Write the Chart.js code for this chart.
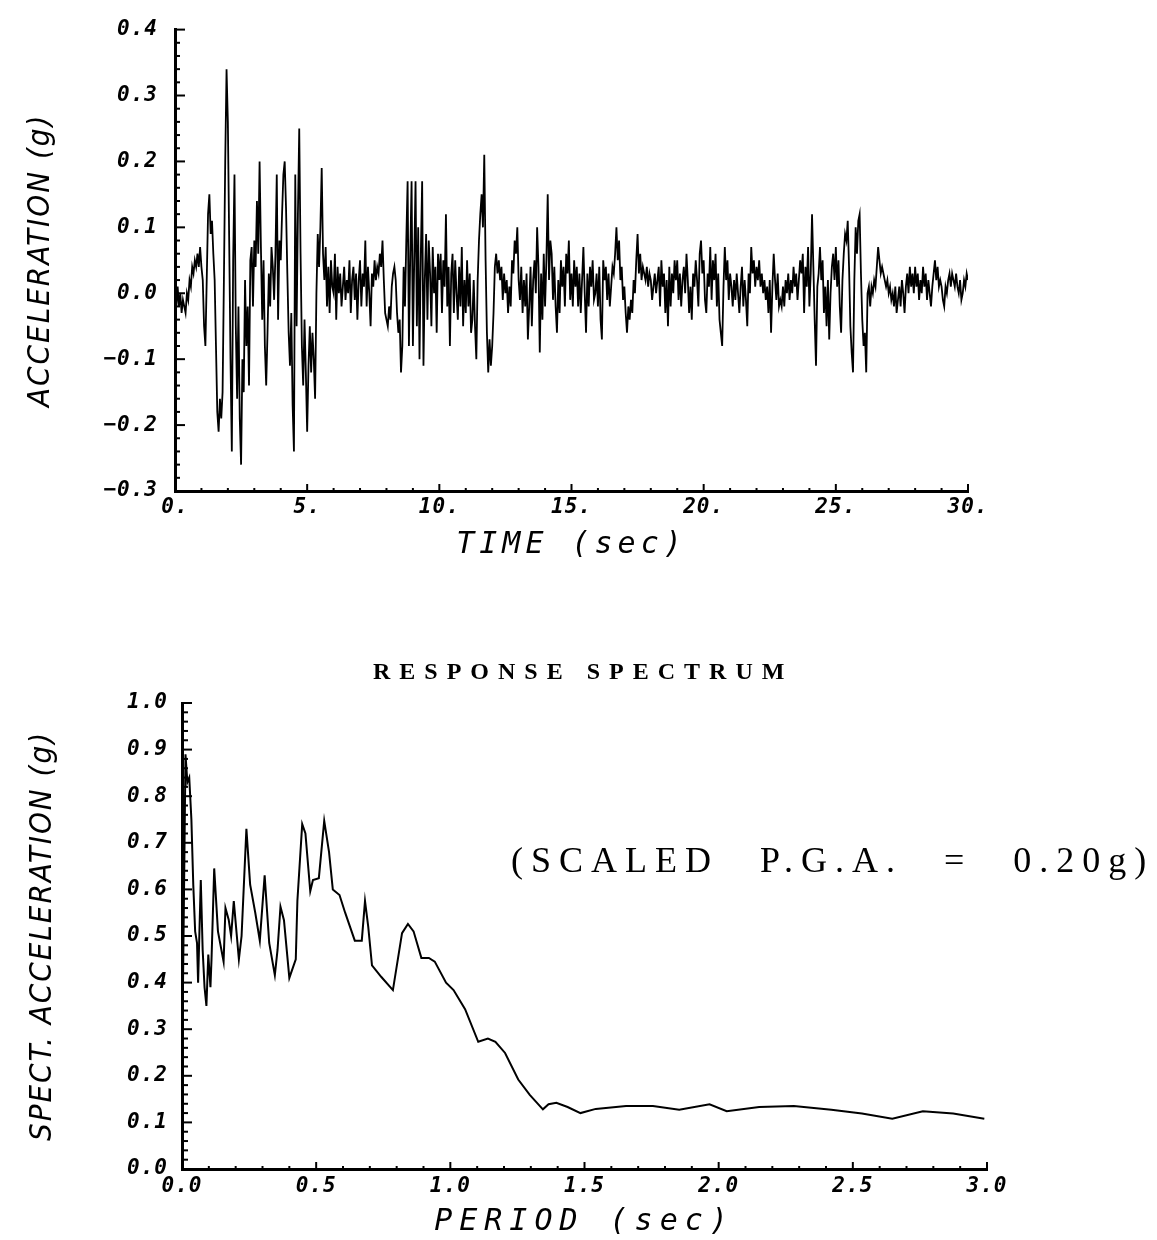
<!DOCTYPE html>
<html>
<head>
<meta charset="utf-8">
<script src="https://cdn.jsdelivr.net/npm/chart.js@4.4.1/dist/chart.umd.min.js"></script>
<style>
  body { margin: 0; background: #fff; }
  #wrap { position: relative; width: 1157px; height: 1240px; overflow: hidden; }
  canvas { position: absolute; left: 0; }
  #accChart { top: 0; }
  #specChart { top: 640px; }
  .note { position: absolute; color: #000; white-space: nowrap; font-family: 'Liberation Serif', 'DejaVu Serif', serif; }
  #specTitle { left: 373px; top: 659px; font-size: 24px; line-height: 24px; font-weight: bold; letter-spacing: 9px; }
  #pgaNote { left: 511px; top: 842px; font-size: 36px; line-height: 36px; letter-spacing: 8px; word-spacing: 24px; }
</style>
</head>
<body>
<div id="wrap">
  <canvas id="accChart" width="1157" height="600"></canvas>
  <canvas id="specChart" width="1157" height="600"></canvas>
  <div class="note" id="specTitle">RESPONSE SPECTRUM</div>
  <div class="note" id="pgaNote">(SCALED P.G.A. = 0.20g)</div>
</div>
<script>
// accelerogram, one row per second (dt = 0.05 s)
const dt = 0.05;
const accel = [
  0.00, -0.02, 0.01, -0.02, 0.00, -0.03, -0.01, -0.02, -0.03, 0.00, -0.01, 0.02, 0.01, 0.04, 0.03, 0.05, 0.04, 0.06, 0.04, 0.07,
  0.04, 0.02, -0.05, -0.08, 0.02, 0.12, 0.15, 0.09, 0.11, 0.06, 0.02, -0.08, -0.18, -0.21, -0.16, -0.19, -0.15, 0.02, 0.20, 0.34,
  0.26, 0.08, -0.10, -0.24, 0.05, 0.18, -0.05, -0.16, -0.02, -0.19, -0.26, -0.10, -0.15, 0.02, -0.08, -0.02, -0.14, 0.05, 0.07, -0.02,
  0.08, 0.04, 0.14, 0.06, 0.20, 0.07, -0.04, 0.05, -0.08, -0.14, -0.06, 0.03, -0.02, 0.07, 0.04, -0.01, 0.06, 0.18, -0.04, 0.08,
  0.05, 0.12, 0.18, 0.20, 0.13, 0.03, -0.06, -0.11, -0.03, -0.17, -0.24, 0.18, -0.05, 0.12, 0.25, 0.06, -0.08, -0.14, -0.04, -0.12,
  -0.21, -0.11, -0.05, -0.12, -0.06, -0.10, -0.16, 0.00, 0.09, 0.04, 0.10, 0.19, 0.06, 0.02, 0.07, -0.02, 0.04, -0.03, 0.05, 0.01,
  0.00, 0.06, -0.04, 0.04, 0.00, 0.03, -0.02, 0.01, 0.04, -0.01, 0.02, 0.00, 0.05, -0.03, 0.02, 0.04, -0.01, 0.03, -0.04, 0.02,
  0.05, -0.02, 0.03, 0.01, 0.08, -0.02, 0.04, 0.00, -0.05, 0.03, 0.01, 0.05, 0.02, 0.04, 0.03, 0.06, 0.04, 0.08, 0.02, -0.03,
  -0.04, -0.05, -0.02, -0.04, 0.01, 0.03, 0.04, 0.02, -0.03, -0.06, -0.04, -0.12, -0.08, 0.04, -0.02, 0.08, 0.17, -0.08, 0.06, 0.17,
  -0.08, 0.05, 0.17, -0.05, 0.10, -0.10, 0.06, 0.17, -0.11, 0.02, 0.09, -0.04, 0.08, 0.03, -0.05, 0.07, 0.00, 0.04, -0.06, 0.06,
  0.02, 0.06, -0.03, 0.05, 0.01, 0.12, -0.02, 0.04, -0.08, 0.03, 0.06, -0.03, 0.05, 0.00, -0.04, 0.04, -0.02, 0.07, -0.05, 0.02,
  -0.03, 0.05, -0.02, 0.03, -0.06, -0.04, 0.02, -0.05, -0.10, 0.02, 0.08, 0.12, 0.15, 0.10, 0.21, 0.05, -0.06, -0.12, -0.07, -0.11,
  -0.08, -0.03, 0.04, 0.06, 0.03, 0.05, 0.02, 0.04, -0.01, 0.03, 0.00, 0.02, -0.03, 0.01, -0.02, 0.05, 0.03, 0.08, 0.06, 0.10,
  0.02, -0.01, 0.04, -0.03, 0.02, -0.02, 0.03, -0.07, -0.02, 0.04, -0.05, 0.02, 0.05, 0.00, 0.10, 0.04, -0.09, 0.03, -0.04, 0.06,
  -0.02, 0.05, 0.15, 0.02, 0.08, 0.06, -0.01, 0.04, -0.02, -0.06, 0.02, -0.03, 0.05, 0.01, 0.04, -0.02, 0.06, 0.03, 0.08, -0.01,
  0.03, -0.02, 0.05, 0.01, 0.04, -0.02, 0.03, -0.03, 0.02, 0.07, 0.00, -0.06, 0.03, -0.02, 0.04, 0.01, 0.05, -0.01, 0.00, 0.03,
  -0.02, 0.04, -0.04, -0.07, 0.05, 0.02, 0.04, -0.01, 0.03, -0.02, 0.01, 0.04, 0.03, 0.06, 0.10, 0.05, 0.08, 0.02, 0.04, -0.01,
  0.01, -0.03, -0.06, -0.02, -0.04, -0.01, -0.03, 0.02, 0.00, 0.05, 0.09, 0.03, 0.06, 0.02, 0.04, 0.03, 0.02, 0.04, 0.01, 0.03,
  0.02, -0.01, 0.01, 0.03, 0.00, 0.02, 0.04, -0.02, 0.05, 0.01, 0.03, -0.03, 0.02, -0.05, 0.04, -0.02, 0.03, 0.00, 0.05, 0.02,
  0.05, -0.01, 0.03, -0.02, 0.02, 0.04, 0.00, 0.06, 0.02, -0.03, 0.01, -0.04, 0.03, 0.01, 0.05, 0.02, -0.02, 0.06, 0.08, 0.03,
  0.05, -0.01, -0.03, 0.03, 0.01, 0.07, -0.01, 0.05, 0.02, 0.06, -0.02, 0.03, -0.04, -0.06, -0.08, 0.01, 0.07, 0.02, 0.05, -0.01,
  0.03, 0.01, -0.02, 0.02, -0.01, 0.03, 0.00, -0.03, 0.01, 0.04, -0.02, 0.02, -0.01, -0.05, 0.03, 0.00, 0.07, 0.03, 0.05, 0.01,
  0.04, 0.02, 0.05, 0.01, 0.03, 0.00, 0.02, -0.01, 0.01, -0.03, 0.02, -0.06, 0.01, 0.06, 0.02, -0.01, 0.03, -0.02, -0.01, -0.02,
  0.01, -0.02, 0.02, 0.00, 0.03, -0.01, 0.02, 0.00, 0.04, 0.01, 0.03, -0.01, 0.02, 0.05, 0.03, 0.06, -0.03, 0.04, 0.01, 0.07,
  -0.02, 0.03, 0.12, 0.04, -0.04, -0.11, 0.01, 0.03, 0.07, 0.02, 0.05, -0.03, 0.01, -0.05, 0.02, -0.07, 0.00, 0.04, 0.06, 0.02,
  0.07, 0.01, 0.05, -0.02, -0.06, 0.02, 0.06, 0.09, 0.08, 0.11, 0.04, -0.05, -0.09, -0.12, 0.02, 0.10, 0.06, 0.11, 0.12, 0.03,
  -0.04, -0.08, -0.06, -0.12, 0.00, 0.01, -0.02, 0.01, 0.00, 0.02, 0.01, 0.04, 0.07, 0.05, 0.03, 0.04, 0.03, 0.02, 0.01, 0.02,
  0.00, 0.01, -0.01, 0.00, -0.02, 0.01, -0.03, -0.01, 0.01, -0.02, 0.02, 0.00, -0.03, 0.01, 0.03, 0.00, 0.04, 0.01, 0.03, 0.00,
  0.04, 0.01, 0.03, -0.01, 0.02, 0.00, 0.04, 0.01, 0.03, -0.01, 0.02, 0.00, -0.02, 0.01, 0.03, 0.05, 0.02, 0.04, 0.01, 0.02,
  0.01, -0.01, -0.02, 0.01, 0.00, 0.02, 0.03, 0.01, 0.03, 0.02, 0.01, 0.03, 0.01, 0.00, 0.02, -0.01, 0.00, 0.02, 0.01, 0.03,
  0.02
];

// response spectrum
const periods = [
  0.000, 0.008, 0.013, 0.020, 0.027, 0.035, 0.042, 0.049, 0.056, 0.060, 0.070, 0.077, 0.084, 0.091, 0.098, 0.106, 0.110,
  0.120, 0.134, 0.155, 0.162, 0.174, 0.183, 0.193, 0.212, 0.222, 0.240, 0.254, 0.273, 0.290, 0.308, 0.325, 0.346, 0.356,
  0.367, 0.380, 0.400, 0.424, 0.430, 0.448, 0.460, 0.478, 0.488, 0.510, 0.530, 0.548, 0.562, 0.587, 0.608, 0.644, 0.670,
  0.682, 0.694, 0.708, 0.743, 0.786, 0.820, 0.842, 0.863, 0.892, 0.920, 0.942, 0.984, 1.012, 1.055, 1.104, 1.140, 1.168,
  1.204, 1.253, 1.296, 1.345, 1.366, 1.395, 1.437, 1.485, 1.542, 1.655, 1.755, 1.853, 1.966, 2.030, 2.151, 2.280, 2.420,
  2.534, 2.647, 2.761, 2.874, 2.990
];
const spectAcc = [
  0.20, 0.62, 0.89, 0.83, 0.84, 0.75, 0.61, 0.51, 0.485, 0.40, 0.62, 0.47, 0.39, 0.35, 0.46, 0.39, 0.45,
  0.645, 0.51, 0.445, 0.56, 0.535, 0.50, 0.575, 0.45, 0.50, 0.73, 0.61, 0.55, 0.49, 0.63, 0.485, 0.416, 0.47,
  0.563, 0.534, 0.41, 0.45, 0.575, 0.74, 0.72, 0.596, 0.62, 0.624, 0.747, 0.68, 0.60, 0.588, 0.55, 0.49, 0.49,
  0.575, 0.52, 0.437, 0.412, 0.384, 0.506, 0.526, 0.51, 0.453, 0.453, 0.445, 0.40, 0.384, 0.343, 0.273, 0.28, 0.273,
  0.249, 0.192, 0.159, 0.128, 0.139, 0.142, 0.133, 0.12, 0.129, 0.135, 0.135, 0.127, 0.139, 0.124, 0.133, 0.135, 0.127,
  0.119, 0.108, 0.124, 0.119, 0.108
];

const tickFont = { family: "'DejaVu Sans Mono', monospace", size: 21, style: 'italic', weight: 'bold' };
const yTitleFont = { family: "'DejaVu Sans Condensed', 'DejaVu Sans', sans-serif", size: 31, style: 'italic', weight: 'normal' };
const xTitleFont = { family: "'DejaVu Sans Mono', monospace", size: 30, style: 'italic', weight: 'normal' };

// canvas letterSpacing per scale (plotter lettering is widely spaced)
const spacedText = {
  id: 'spacedText',
  beforeDraw(chart, args, opts) {
    for (const scale of Object.values(chart.scales)) {
      if (scale.$spaced) continue;
      scale.$spaced = true;
      const sp = opts[scale.id] || {};
      const drawTitle = scale.drawTitle;
      const drawLabels = scale.drawLabels;
      scale.drawTitle = function () {
        chart.ctx.letterSpacing = sp.title || '0px';
        drawTitle.apply(this, arguments);
        chart.ctx.letterSpacing = '0px';
      };
      scale.drawLabels = function () {
        chart.ctx.letterSpacing = sp.ticks || '0px';
        drawLabels.apply(this, arguments);
        chart.ctx.letterSpacing = '0px';
      };
    }
  }
};

// tick marks pointing into the plot, major + minor
const innerTicks = {
  id: 'innerTicks',
  afterDatasetsDraw(chart, args, opts) {
    const { ctx, chartArea, scales } = chart;
    ctx.save();
    ctx.strokeStyle = '#000';
    ctx.lineWidth = 2;
    for (const id of ['x', 'y']) {
      const s = scales[id], o = opts[id];
      const n = Math.round((s.max - s.min) / o.minor);
      for (let i = 0; i <= n; i++) {
        const v = s.min + i * o.minor;
        const r = v / o.major;
        const len = Math.abs(r - Math.round(r)) < 1e-6 ? o.majorLen : o.minorLen;
        const p = s.getPixelForValue(v);
        ctx.beginPath();
        if (id === 'x') {
          ctx.moveTo(p, chartArea.bottom);
          ctx.lineTo(p, chartArea.bottom - len);
        } else {
          ctx.moveTo(chartArea.left, p);
          ctx.lineTo(chartArea.left + len, p);
        }
        ctx.stroke();
      }
    }
    ctx.restore();
  }
};

function fmt1(v) {
  const r = Math.round(v * 10) / 10;
  return (r < 0 ? '\u2212' : '') + Math.abs(r).toFixed(1);
}

const axisBase = {
  type: 'linear',
  grid: { drawOnChartArea: false, drawTicks: false },
  border: { display: true, color: '#000', width: 3 }
};

// top: time history
new Chart(document.getElementById('accChart'), {
  type: 'line',
  data: {
    datasets: [{
      data: accel.map((a, i) => ({ x: i * dt, y: a })),
      borderColor: '#000',
      borderWidth: 1.8,
      pointRadius: 0,
      tension: 0
    }]
  },
  options: {
    responsive: false,
    animation: false,
    devicePixelRatio: 1,
    layout: { padding: { left: 0, top: 24, right: 189, bottom: 9 } },
    plugins: {
      legend: { display: false },
      tooltip: { enabled: false },
      spacedText: { x: { title: '5px', ticks: '1px' }, y: { title: '2px', ticks: '1px' } },
      innerTicks: {
        x: { major: 5, minor: 1, majorLen: 7, minorLen: 3 },
        y: { major: 0.1, minor: 0.02, majorLen: 10, minorLen: 5 }
      }
    },
    scales: {
      x: {
        ...axisBase,
        min: 0, max: 30,
        afterFit(scale) { scale.height = 100; },
        ticks: { stepSize: 5, autoSkip: false, maxRotation: 0, padding: 4, color: '#000', font: tickFont,
          callback: v => v + '.' },
        title: { display: true, text: 'TIME (sec)', color: '#000', font: xTitleFont, padding: { bottom: 28 } }
      },
      y: {
        ...axisBase,
        min: -0.3, max: 0.4,
        afterFit(scale) { scale.width = 175; },
        ticks: { stepSize: 0.1, padding: 17, color: '#000', font: tickFont, callback: fmt1 },
        title: { display: true, text: 'ACCELERATION (g)', color: '#000', font: yTitleFont, padding: { top: 22 } }
      }
    }
  },
  plugins: [spacedText, innerTicks]
});

// bottom: response spectrum
new Chart(document.getElementById('specChart'), {
  type: 'line',
  data: {
    datasets: [{
      data: periods.map((t, i) => ({ x: t, y: spectAcc[i] })),
      borderColor: '#000',
      borderWidth: 2,
      pointRadius: 0,
      tension: 0
    }]
  },
  options: {
    responsive: false,
    animation: false,
    devicePixelRatio: 1,
    layout: { padding: { left: 0, top: 63, right: 170, bottom: 0 } },
    plugins: {
      legend: { display: false },
      tooltip: { enabled: false },
      spacedText: { x: { title: '7px', ticks: '1px' }, y: { title: '2px', ticks: '1px' } },
      innerTicks: {
        x: { major: 0.5, minor: 0.1, majorLen: 7, minorLen: 3 },
        y: { major: 0.1, minor: 0.02, majorLen: 10, minorLen: 6 }
      }
    },
    scales: {
      x: {
        ...axisBase,
        min: 0, max: 3,
        afterFit(scale) { scale.height = 71; },
        ticks: { stepSize: 0.5, autoSkip: false, maxRotation: 0, padding: 5, color: '#000', font: tickFont,
          callback: v => v.toFixed(1) },
        title: { display: true, text: 'PERIOD (sec)', color: '#000', font: xTitleFont, padding: { bottom: 0 } }
      },
      y: {
        ...axisBase,
        min: 0, max: 1,
        afterFit(scale) { scale.width = 182; },
        ticks: { stepSize: 0.1, padding: 14, color: '#000', font: tickFont, callback: fmt1 },
        title: { display: true, text: 'SPECT. ACCELERATION (g)', color: '#000', font: yTitleFont, padding: { top: 24 } }
      }
    }
  },
  plugins: [spacedText, innerTicks]
});
</script>
</body>
</html>
